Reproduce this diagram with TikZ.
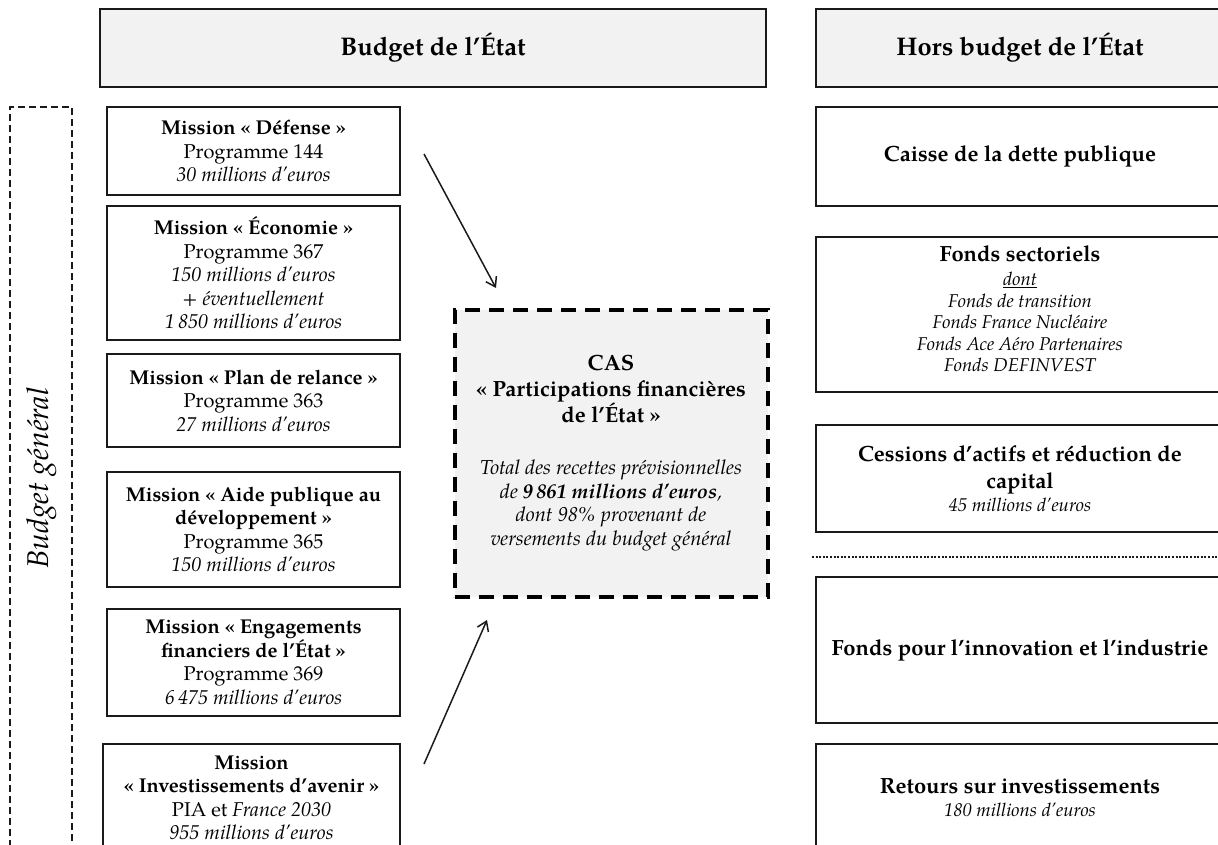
\documentclass[tikz,border=0pt]{standalone}
\usepackage{fontspec}
\setmainfont{TeX Gyre Pagella}
\usetikzlibrary{arrows.meta}
\definecolor{hdrfill}{HTML}{F2F2F2}
\definecolor{ink}{HTML}{1A1A1A}
\newcommand{\casitemfont}{\fontsize{20.2}{23.5}\selectfont\itshape}
\newcommand{\ritemfont}{\fontsize{18.5}{21.5}\selectfont\itshape}
\begin{document}
\begin{tikzpicture}[x=1pt,y=-1pt,
  hdr/.style={draw=ink, line width=2.4pt, fill=hdrfill, inner sep=0pt, minimum height=78pt,
    font=\fontsize{25.5}{30}\selectfont\bfseries},
  lbox/.style={draw=ink, line width=1.6pt, align=center, inner sep=0pt, minimum width=293pt,
    font=\fontsize{20}{23.5}\selectfont},
  rbox/.style={draw=ink, line width=2pt, align=center, inner sep=0pt, minimum width=408pt,
    font=\fontsize{22}{27}\selectfont},
  casbox/.style={draw=black, line width=4pt, dash pattern=on 15pt off 9pt, fill=hdrfill,
    align=center, inner sep=0pt, minimum width=313pt, minimum height=287pt,
    font=\fontsize{22}{26}\selectfont},
  gbox/.style={draw=ink, line width=2pt, dash pattern=on 7pt off 4pt, inner sep=0pt,
    minimum width=62pt, minimum height=760pt},
  arr/.style={draw=ink, line width=1.5pt, -{Straight Barb[length=9pt,width=12pt]}},
  sep/.style={draw=ink, line width=2pt, dash pattern=on 2pt off 1.6pt}
]
\useasboundingbox (0,0) rectangle (1218,845);
\clip (0,0) rectangle (1218,845);

% headers
\node[hdr, minimum width=666pt] (hb) at (433,48) {Budget de l’État};
\node[hdr, minimum width=408pt] (hh) at (1020,48) {Hors budget de l’État};

% budget général
\node[gbox] (bg) at (40.5,487) {};
\node[rotate=90, font=\fontsize{30}{36}\selectfont\itshape] (bgt) at (42,478) {Budget général};

% missions
\node[lbox, minimum height=88pt] (def) at (253.5,151)
  {\textbf{Mission « Défense »}\\Programme 144\\\textit{30 millions d’euros}};
\node[lbox, minimum height=134pt] (eco) at (253.5,273)
  {\textbf{Mission « Économie »}\\Programme 367\\\textit{150 millions d’euros}\\+ \textit{éventuellement}\\\textit{1\,850 millions d’euros}};
\node[lbox, minimum height=93pt] (rel) at (253.5,400.5)
  {\textbf{Mission « Plan de relance »}\\Programme 363\\\textit{27 millions d’euros}};
\node[lbox, minimum height=115pt] (apd) at (253.5,529.5)
  {\textbf{Mission « Aide publique au}\\\textbf{développement »}\\Programme 365\\\textit{150 millions d’euros}};
\node[lbox, minimum height=107pt] (efe) at (253.5,662.5)
  {\textbf{Mission « Engagements}\\\textbf{financiers de l’État »}\\Programme 369\\\textit{6\,475 millions d’euros}};
\node[lbox, minimum width=297pt, minimum height=108pt] (inv) at (251.5,798)
  {\textbf{Mission}\\\textbf{« Investissements d’avenir »}\\PIA et \textit{France 2030}\\\textit{955 millions d’euros}};

% CAS
\node[casbox] (cas) at (611,453)
  {\textbf{CAS}\\\textbf{« Participations financières}\\\textbf{de l’État »}\\[26pt]
   {\casitemfont Total des recettes prévisionnelles}\\[-2.5pt]
   {\casitemfont de \textbf{9\,861 millions d’euros},}\\[-2.5pt]
   {\casitemfont dont 98\% provenant de}\\[-2.5pt]
   {\casitemfont versements du budget général}};

% arrows
\coordinate (a1s) at (424,154);
\coordinate (a1e) at (496,288);
\coordinate (a2s) at (424,764);
\coordinate (a2e) at (487,620);
\draw[arr] (a1s) -- (a1e);
\draw[arr] (a2s) -- (a2e);

% right column
\node[rbox, minimum height=99pt] (cdp) at (1020,156.5) {\textbf{Caisse de la dette publique}};
\node[rbox, minimum height=155pt] (fs) at (1020,314.5)
  {\textbf{Fonds sectoriels}\\[-2.5pt]
   {\ritemfont \underline{dont}}\\[-5.5pt]
   {\ritemfont Fonds de transition}\\[-5.5pt]
   {\ritemfont Fonds France Nucléaire}\\[-5.5pt]
   {\ritemfont Fonds Ace Aéro Partenaires}\\[-5.5pt]
   {\ritemfont Fonds DEFINVEST\rule[-12pt]{0pt}{0pt}}};
\node[rbox, minimum height=107pt] (ces) at (1020,478.5)
  {\textbf{Cessions d’actifs et réduction de}\\\textbf{capital}\\[-4pt]
   {\ritemfont 45 millions d’euros}};
\coordinate (s1) at (812,557);
\coordinate (s2) at (1218,557);
\draw[sep] (s1) -- (s2);
\node[rbox, minimum height=146pt] (fii) at (1020,650) {\textbf{Fonds pour l’innovation et l’industrie}};
\node[rbox, minimum height=108pt] (rsi) at (1020,798)
  {\textbf{Retours sur investissements}\\[-4pt]
   {\ritemfont 180 millions d’euros}};
\end{tikzpicture}
\end{document}
